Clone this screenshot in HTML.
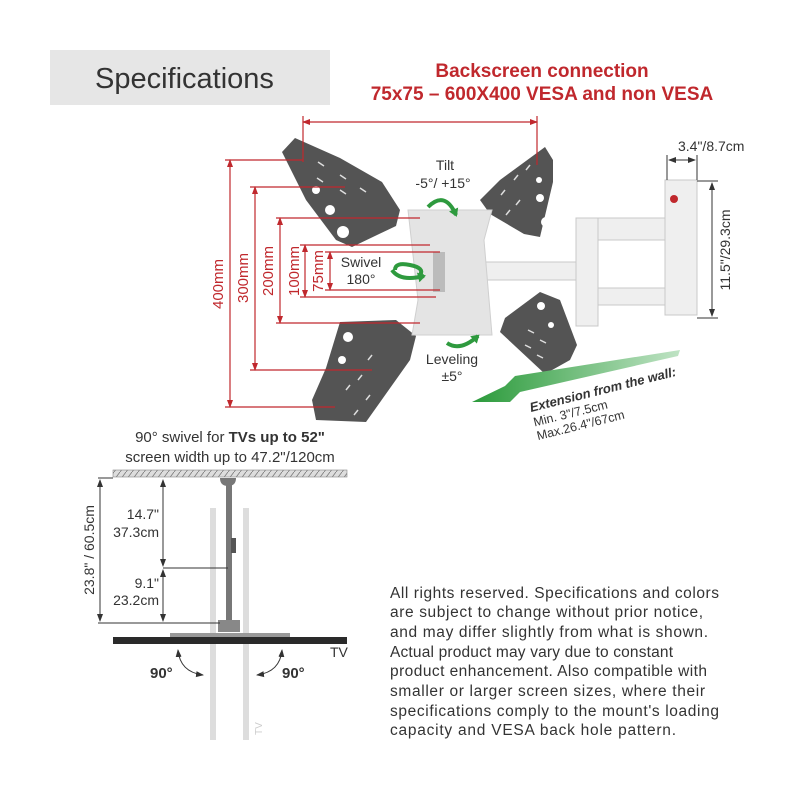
<!DOCTYPE html>
<html><head><meta charset="utf-8"><style>
html,body{margin:0;padding:0;background:#fff;width:800px;height:800px;overflow:hidden}
svg{display:block}
text{font-family:"Liberation Sans",sans-serif}
</style></head><body>
<svg width="800" height="800" viewBox="0 0 800 800">
<defs>
<marker id="ar" markerWidth="8" markerHeight="8" refX="7" refY="4" orient="auto-start-reverse" markerUnits="userSpaceOnUse"><path d="M0,1 L8,4 L0,7 z" fill="#c0282d"/></marker>
<marker id="ak" markerWidth="8" markerHeight="8" refX="7" refY="4" orient="auto-start-reverse" markerUnits="userSpaceOnUse"><path d="M0,1 L8,4 L0,7 z" fill="#333"/></marker>
<marker id="ag" markerWidth="10" markerHeight="10" refX="6" refY="5" orient="auto" markerUnits="userSpaceOnUse"><path d="M0,0 L8,5 L0,10 z" fill="#2e9a3e"/></marker>
<linearGradient id="gg" x1="0" x2="1"><stop offset="0" stop-color="#2a9a3a"/><stop offset="1" stop-color="#bfe3c4"/></linearGradient>
<pattern id="hat" width="6" height="8" patternUnits="userSpaceOnUse"><rect width="6" height="8" fill="#ddd"/><path d="M0,8 L6,0" stroke="#777" stroke-width="0.8"/></pattern>
</defs>

<rect x="50" y="50" width="280" height="55" fill="#e6e6e6"/>
<text x="95" y="88" font-size="29" fill="#333">Specifications</text>
<text x="542" y="77" font-size="19" font-weight="bold" fill="#c0282d" text-anchor="middle">Backscreen connection</text>
<text x="542" y="100" font-size="19" font-weight="bold" fill="#c0282d" text-anchor="middle">75x75 – 600X400 VESA and non VESA</text>

<g fill="#efefef" stroke="#c8c8c8" stroke-width="1">
<rect x="455" y="262" width="135" height="18"/>
<rect x="584" y="218" width="99" height="22"/>
<rect x="576" y="218" width="22" height="108"/>
<rect x="598" y="288" width="85" height="17"/>
<rect x="665" y="180" width="32" height="135"/>
</g>
<circle cx="674" cy="199" r="4" fill="#c0282d"/>

<g fill="#545454">
<path d="M282,152 L295,138 L340,158 L382,182 L400,210 L396,226 L352,247 L336,240 L306,200 Z"/>
<path d="M545,147 L553,160 L553,182 L540,237 L524,234 L490,214 L480,200 L500,180 Z"/>
<path d="M340,322 L396,320 L416,336 L410,360 L366,422 L316,420 L312,400 L326,368 Z"/>
<path d="M505,318 L540,292 L560,300 L577,345 L570,360 L545,374 L500,332 Z"/>
</g>
<g fill="#fff">
<circle cx="343" cy="232" r="6"/><circle cx="330" cy="210" r="5"/><circle cx="316" cy="190" r="4"/>
<circle cx="546" cy="222" r="5"/><circle cx="540" cy="198" r="4"/><circle cx="539" cy="180" r="3"/>
<circle cx="348" cy="337" r="5"/><circle cx="342" cy="360" r="4"/>
<circle cx="541" cy="306" r="4"/><circle cx="551" cy="325" r="3"/>
</g>
<g stroke="#ddd" stroke-width="1.5" fill="none">
<path d="M318,162 l6,4 M340,175 l6,4 M317,178 l6,4 M340,190 l6,4 M360,188 l6,4"/>
<path d="M518,175 l-4,5 M505,190 l-4,5 M530,165 l-4,5 M520,200 l-4,5 M510,210 l-4,5"/>
<path d="M372,355 l-4,5 M362,375 l-4,5 M350,385 l-4,5 M370,395 l-4,5 M358,410 l-4,5"/>
<path d="M528,330 l6,3 M540,340 l6,3 M525,345 l6,3 M537,355 l6,3"/>
</g>
<path d="M408,210 L492,210 L484,240 L492,335 L412,335 L418,300 Z" fill="#e4e4e4" stroke="#cfcfcf"/>
<rect x="433" y="252" width="12" height="40" fill="#bbb"/>

<g stroke="#c0282d" stroke-width="1.2" fill="none">
<line x1="303" y1="122" x2="537" y2="122" marker-start="url(#ar)" marker-end="url(#ar)"/>
<line x1="303" y1="116" x2="303" y2="162"/><line x1="537" y1="116" x2="537" y2="165"/>
<line x1="230" y1="160" x2="230" y2="407" marker-start="url(#ar)" marker-end="url(#ar)"/>
<line x1="225" y1="160" x2="303" y2="160"/><line x1="225" y1="407" x2="335" y2="407"/>
<line x1="255" y1="187" x2="255" y2="370" marker-start="url(#ar)" marker-end="url(#ar)"/>
<line x1="250" y1="187" x2="345" y2="187"/><line x1="250" y1="370" x2="372" y2="370"/>
<line x1="280" y1="218" x2="280" y2="323" marker-start="url(#ar)" marker-end="url(#ar)"/>
<line x1="276" y1="218" x2="420" y2="218"/><line x1="276" y1="323" x2="420" y2="323"/>
<line x1="305" y1="245" x2="305" y2="297" marker-start="url(#ar)" marker-end="url(#ar)"/>
<line x1="300" y1="245" x2="430" y2="245"/><line x1="300" y1="297" x2="436" y2="297"/>
<line x1="330" y1="252" x2="330" y2="290" marker-start="url(#ar)" marker-end="url(#ar)"/>
<line x1="325" y1="252" x2="440" y2="252"/><line x1="325" y1="290" x2="440" y2="290"/>
</g>
<g font-size="15" fill="#c0282d" text-anchor="middle">
<text transform="translate(223,284) rotate(-90)">400mm</text>
<text transform="translate(248,278) rotate(-90)">300mm</text>
<text transform="translate(273,271) rotate(-90)">200mm</text>
<text transform="translate(299,271) rotate(-90)">100mm</text>
<text transform="translate(323,271) rotate(-90)">75mm</text>
</g>

<g font-size="14" fill="#333" text-anchor="middle">
<text x="445" y="170">Tilt</text><text x="443" y="188">-5°/ +15°</text>
<text x="361" y="267">Swivel</text><text x="361" y="284">180°</text>
<text x="452" y="364">Leveling</text><text x="452" y="381">±5°</text>
</g>
<g stroke="#2e9a3e" stroke-width="4" fill="none">
<path d="M428,207 Q445,190 456,215" marker-end="url(#ag)"/>
<path d="M395,270 Q395,262 410,265 Q425,268 420,275" />
<path d="M392,270 Q400,282 424,276" marker-end="url(#ag)"/>
<path d="M447,343 Q460,352 478,336" marker-end="url(#ag)"/>
</g>

<path d="M680,350 L678,356 L520,392 L510,402 L472,402 L505,386 L515,376 Z" fill="url(#gg)"/>
<g transform="translate(531,412) rotate(-14)" fill="#333">
<text x="0" y="0" font-size="13" font-weight="bold" font-style="italic">Extension from the wall:</text>
<text x="0" y="15" font-size="12.5">Min. 3"/7.5cm</text>
<text x="0" y="29" font-size="12.5">Max.26.4"/67cm</text>
</g>

<g stroke="#333" stroke-width="1" fill="none">
<line x1="667" y1="155" x2="667" y2="180"/><line x1="697" y1="155" x2="697" y2="180"/>
<line x1="669" y1="160" x2="695" y2="160" marker-start="url(#ak)" marker-end="url(#ak)"/>
<line x1="697" y1="181" x2="718" y2="181"/><line x1="697" y1="318" x2="718" y2="318"/>
<line x1="712" y1="183" x2="712" y2="316" marker-start="url(#ak)" marker-end="url(#ak)"/>
</g>
<text x="678" y="151" font-size="14" fill="#333">3.4"/8.7cm</text>
<text transform="translate(730,250) rotate(-90)" font-size="14" fill="#333" text-anchor="middle">11.5"/29.3cm</text>

<text x="230" y="442" font-size="15" fill="#333" text-anchor="middle">90° swivel for <tspan font-weight="bold">TVs up to 52"</tspan></text>
<text x="230" y="462" font-size="15" fill="#333" text-anchor="middle">screen width up to 47.2"/120cm</text>
<rect x="113" y="470" width="234" height="7" fill="url(#hat)" stroke="#888" stroke-width="0.6"/>
<rect x="210" y="508" width="6" height="232" fill="#ddd"/>
<rect x="243" y="508" width="6" height="232" fill="#ddd"/>
<path d="M220,478 L236,478 Q236,486 228,486 Q220,486 220,478Z" fill="#777"/>
<rect x="226" y="484" width="6" height="140" fill="#777"/>
<rect x="231" y="538" width="5" height="15" fill="#555"/>
<rect x="218" y="620" width="22" height="12" fill="#888"/>
<rect x="170" y="633" width="120" height="4" fill="#999"/>
<rect x="113" y="637" width="234" height="7" fill="#2a2a2a"/>
<text x="330" y="657" font-size="14" fill="#333">TV</text>
<g stroke="#333" stroke-width="1" fill="none">
<line x1="100" y1="480" x2="100" y2="621" marker-start="url(#ak)" marker-end="url(#ak)"/>
<line x1="98" y1="478" x2="113" y2="478"/>
<line x1="98" y1="623" x2="220" y2="623"/>
<line x1="163" y1="480" x2="163" y2="566" marker-start="url(#ak)" marker-end="url(#ak)"/>
<line x1="163" y1="570" x2="163" y2="621" marker-start="url(#ak)" marker-end="url(#ak)"/>
<line x1="163" y1="568" x2="228" y2="568"/>
<path d="M178,650 Q180,672 203,675" marker-start="url(#ak)" marker-end="url(#ak)"/>
<path d="M282,650 Q280,672 257,675" marker-start="url(#ak)" marker-end="url(#ak)"/>
</g>
<text transform="translate(94,550) rotate(-90)" font-size="14" fill="#333" text-anchor="middle">23.8" / 60.5cm</text>
<g font-size="14" fill="#333" text-anchor="end">
<text x="159" y="519">14.7"</text><text x="159" y="537">37.3cm</text>
<text x="159" y="588">9.1"</text><text x="159" y="605">23.2cm</text>
</g>
<text x="150" y="678" font-size="15" font-weight="bold" fill="#333">90°</text>
<text x="282" y="678" font-size="15" font-weight="bold" fill="#333">90°</text>
<text transform="translate(262,735) rotate(-90)" font-size="10" fill="#ccc">TV</text>

<g font-size="15.5" fill="#333">
<text x="390" y="598" textLength="329">All rights reserved. Specifications and colors</text>
<text x="390" y="617" textLength="313">are subject to change without prior notice,</text>
<text x="390" y="637" textLength="318">and may differ slightly from what is shown.</text>
<text x="390" y="657" textLength="283">Actual product may vary due to constant</text>
<text x="390" y="676" textLength="317">product enhancement. Also compatible with</text>
<text x="390" y="696" textLength="315">smaller or larger screen sizes, where their</text>
<text x="390" y="716" textLength="329">specifications comply to the mount's loading</text>
<text x="390" y="735" textLength="286">capacity and VESA back hole pattern.</text>
</g>
</svg>
</body></html>
